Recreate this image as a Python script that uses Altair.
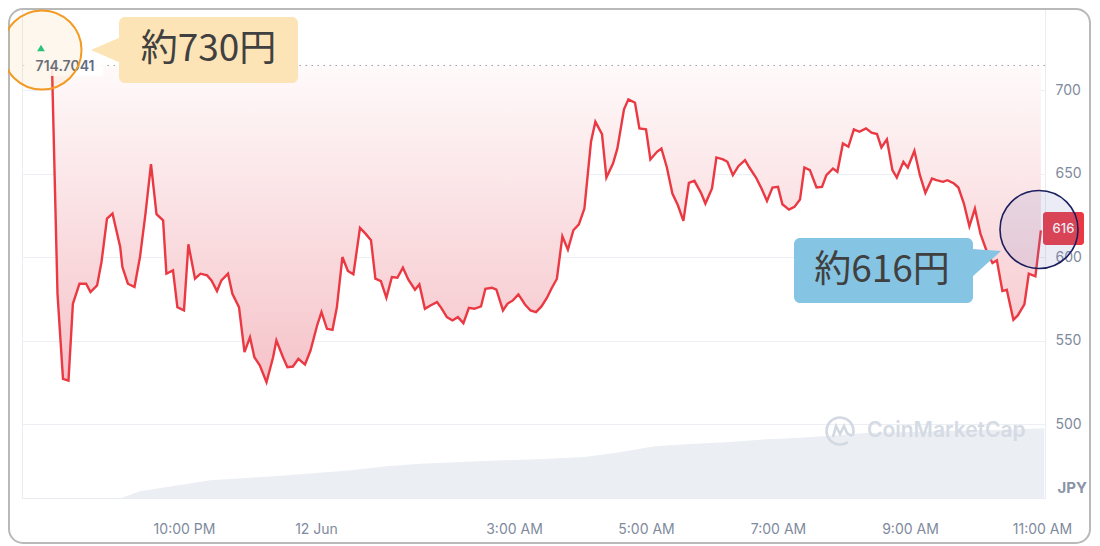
import altair as alt
import pandas as pd

# ---------------- data ----------------
price_time = [
    "20:00", "20:05", "20:10", "20:15", "20:19", "20:25", "20:31", "20:35", "20:41", "20:45",
    "20:50", "20:55", "21:02", "21:04", "21:09", "21:15", "21:20", "21:25", "21:30", "21:35",
    "21:41", "21:44", "21:50", "21:54", "22:00", "22:04", "22:10", "22:15", "22:21", "22:25",
    "22:30", "22:34", "22:40", "22:44", "22:50", "22:55", "23:00", "23:04", "23:09", "23:15",
    "23:21", "23:24", "23:30", "23:34", "23:39", "23:44", "23:50", "23:55",
    "00:01", "00:05", "00:10", "00:15", "00:19", "00:24", "00:29", "00:34", "00:40", "00:45",
    "00:50", "00:54", "00:59", "01:04", "01:09", "01:14", "01:19", "01:24", "01:30", "01:34",
    "01:39", "01:44", "01:50", "01:54", "01:59", "02:04", "02:09", "02:14", "02:19", "02:24",
    "02:30", "02:34", "02:40", "02:44", "02:50", "02:54", "02:59", "03:04", "03:10", "03:15",
    "03:20", "03:25", "03:30", "03:34", "03:39", "03:44", "03:49", "03:54", "03:59", "04:04",
    "04:10", "04:14", "04:20", "04:24", "04:30", "04:34", "04:40", "04:44", "04:50", "04:54",
    "05:00", "05:04", "05:10", "05:14", "05:19", "05:24", "05:29", "05:34", "05:39", "05:44",
    "05:50", "05:54", "06:00", "06:04", "06:10", "06:14", "06:19", "06:24", "06:30", "06:34",
    "06:40", "06:45", "06:50", "06:55", "07:00", "07:04", "07:10", "07:15", "07:20", "07:24",
    "07:29", "07:35", "07:40", "07:44", "07:50", "07:54", "07:59", "08:04", "08:09", "08:14",
    "08:20", "08:25", "08:30", "08:34", "08:39", "08:44", "08:48", "08:54", "08:58", "09:04",
    "09:09", "09:14", "09:20", "09:24", "09:30", "09:34", "09:40", "09:44", "09:49", "09:54",
    "09:59", "10:04", "10:10", "10:15", "10:19", "10:24", "10:28", "10:34", "10:38", "10:44",
    "10:48", "10:54", "10:59",
]
price_jpy = [
    714.7041, 578, 527, 526, 572, 584, 584, 579, 583, 597,
    623, 626, 606, 594, 584, 582, 600, 626, 655.6, 625.6,
    622, 590, 592, 570, 568, 607.6, 587, 590, 589, 586,
    579.6, 586, 590, 578, 570, 543, 552, 540, 535, 525,
    540, 550, 540, 534, 534.4, 539, 535.6, 544,
    559, 567, 557, 556.4, 570, 600, 591.6, 589.6, 617.4, 614,
    610, 587, 585.6, 575.6, 588, 587.6, 593.6, 586.4, 580.4, 583.6,
    569, 571, 573, 569.4, 564, 562, 564, 560.4, 569.6, 569,
    570.4, 581, 581.6, 580.4, 568, 572, 574, 577.6, 571.6, 568,
    567, 570.4, 575.6, 581, 587, 612.4, 604.4, 616, 619.6, 629,
    669, 681, 673.6, 647.6, 656, 665, 688.4, 694.4, 692.4, 677,
    676.4, 658.4, 663, 665, 653.6, 638, 631, 621.6, 644.4, 645.6,
    638.4, 632, 641, 659.6, 658.4, 657, 649, 654.4, 658, 653.6,
    647.6, 641, 633.6, 641.6, 642, 631.6, 628.4, 630, 634.4, 653.6,
    652, 641.6, 642, 649, 653, 651, 668, 666, 676.4, 675,
    677, 674.4, 673.6, 665.6, 670.4, 652, 647.6, 657, 653.6, 663.6,
    649, 638.4, 647, 646, 645, 646, 644, 641.6, 632, 618.4,
    629, 614, 603, 596.4, 598, 579.6, 580.4, 562.4, 565, 571.6,
    590, 588.4, 616,
]
volume_time = [
    "21:03", "21:20", "21:52", "22:24", "22:56", "23:28", "00:00", "00:32", "01:04", "01:35",
    "02:07", "02:39", "03:27", "04:04", "04:36", "05:08", "05:40", "06:12", "06:44", "07:16",
    "07:48", "08:20", "08:52", "09:24", "09:55", "10:27", "11:02",
]
volume_level = [
    0, 6.7, 12.3, 17.7, 20, 22.3, 25, 27.7, 31.7, 34.3,
    35.7, 37.3, 39, 41, 45.7, 51.7, 54, 55.7, 58.3, 60,
    62.3, 65, 65.7, 66.7, 67.7, 68.3, 69.7,
]
open_price = 714.7041
last_price = 616
y_ticks = [500, 550, 600, 650, 700]
x_tick_time = ["22:00", "00:00", "03:00", "05:00", "07:00", "09:00", "11:00"]
x_tick_label = ["10:00 PM", "12 Jun", "3:00 AM", "5:00 AM", "7:00 AM", "9:00 AM", "11:00 AM"]
unit_label = "JPY"
callout_open = "約730円"
callout_last = "約616円"
watermark = "CoinMarketCap"


def stamp(hm):
    h = int(hm[:2])
    day = 11 if h >= 12 else 12
    return f"2024-06-{day}T{hm}:00"


def when(hm, sec=0):
    h, m = (int(v) for v in hm.split(":"))
    day = 11 if h >= 12 else 12
    return alt.DateTime(year=2024, month=6, date=day, hours=h, minutes=m, seconds=sec)


price_df = pd.DataFrame({"t": [stamp(s) for s in price_time], "p": price_jpy})
vol_df = pd.DataFrame({"t": [stamp(s) for s in volume_time], "v": volume_level})
one = pd.DataFrame({"k": [0]})

W, H = 1023, 490
GRAY = "#808a9d"

lab = "''"
for t, l in reversed(list(zip(x_tick_time, x_tick_label))):
    lab = f"timeFormat(datum.value, '%H:%M') == '{t}' ? '{l}' : ({lab})"

x_enc = alt.X(
    "t:T",
    scale=alt.Scale(domain=[when("19:32", 44), when("11:02", 44)]),
    axis=alt.Axis(
        values=[when(t) for t in x_tick_time], labelExpr=lab, title=None, grid=False,
        ticks=False, tickSize=0, domain=False, labelPadding=24, labelFlush=False,
        labelOverlap=False, labelFont="Inter", labelFontSize=14, labelColor=GRAY,
    ),
)
pscale = alt.Scale(domain=[455.7, 749.1], nice=False, zero=False)

volume = alt.Chart(vol_df).mark_area(color="#ebeef3", interpolate="linear").encode(
    x=x_enc,
    y=alt.Y("v:Q", scale=alt.Scale(domain=[0, H], nice=False, zero=True), axis=None),
)

area = alt.Chart(price_df).mark_area(
    interpolate="linear",
    color=alt.Gradient(
        gradient="linear",
        stops=[alt.GradientStop(color="#fffafa", offset=0),
               alt.GradientStop(color="#f5c3c9", offset=1)],
        x1=1, x2=1, y1=0, y2=1,
    ),
).encode(x=x_enc, y=alt.Y("p:Q", scale=pscale, axis=None), y2=alt.datum(open_price))

line = alt.Chart(price_df).mark_line(color="#ea3943", strokeWidth=2.4, interpolate="linear").encode(
    x=x_enc,
    y=alt.Y("p:Q", scale=pscale, axis=alt.Axis(
        orient="right", values=y_ticks, title=None, grid=True, gridColor="#eceff3",
        ticks=False, tickSize=0, domain=False, labelPadding=10, labelFont="Inter",
        labelFontSize=14, labelColor=GRAY, labelAlign="left")),
)

open_rule = alt.Chart(one).mark_rule(color="#9aa1ad", strokeDash=[1.5, 4.5], strokeWidth=1).encode(
    y=alt.YDatum(open_price, scale=pscale, axis=None)
)


def box(x1, x2, y1, y2, **kw):
    return alt.Chart(one).mark_rect(**kw).encode(
        x=alt.value(x1), x2=alt.value(x2), y=alt.value(y1), y2=alt.value(y2))


def label(txt, x, y, **kw):
    return alt.Chart(one).mark_text(text=txt, **kw).encode(x=alt.value(x), y=alt.value(y))


def symbol(x, y, **kw):
    return alt.Chart(one).mark_point(**kw).encode(x=alt.value(x), y=alt.value(y))


border = box(-13, 1068, 1, 535, fillOpacity=0, stroke="#b9b9b9", strokeWidth=2, cornerRadius=14)

open_box = box(2, 81, 49, 68, color="white", opacity=0.9)
open_text = label(f"{open_price:.4f}", 43, 59, font="Inter", fontSize=14, fontWeight=600,
                  color="#5f6b80", align="center", baseline="middle")
green_tri = symbol(19, 40, shape="triangle-up", filled=True, color="#16c784", size=60, opacity=1)

wm_logo = symbol(818, 423, shape="M7.7,11.1A13.5,13.5,0,1,1,12.7,4.6M-7,6L-4,-5L0,3L4,-5L7,2L12,5",
                 size=4, filled=False, color="#d3d9e2", strokeWidth=2.6, opacity=1)
wm_text = label(watermark, 845, 423, font="Inter", fontSize=21, fontWeight=600,
                color="#d5dbe4", align="left", baseline="middle")

jpy = label(unit_label, 1065, 480, font="Inter", fontSize=15, fontWeight="bold",
            color="#8a94a6", align="right", baseline="middle")

last_box = box(1021, 1062, 204, 237, color="#ea3943", cornerRadius=3)
last_text = label(f"{last_price}", 1041.5, 221, font="Inter", fontSize=13, fontWeight=500,
                  color="white", align="center", baseline="middle")

orange_ring = symbol(20, 42, shape="circle", size=6241, fill="#f7931a", fillOpacity=0.08,
                     stroke="#f39a23", strokeWidth=2, strokeOpacity=1, opacity=1)
navy_ring = symbol(1017, 221.5, shape="circle", size=6084, fill="#7b7fc4", fillOpacity=0.15,
                   stroke="#1b1f5e", strokeWidth=1.6, strokeOpacity=1, opacity=1)

c1_box = box(97, 276, 9, 75, color="#fce4b6", cornerRadius=6)
c1_tip = symbol(98, 42, shape="M1,-13L-29,0L1,13Z", size=4, filled=True, color="#fce4b6",
                strokeWidth=0, opacity=1)
c1_text = label(callout_open, 186.5, 42, font="Noto Sans CJK JP", fontSize=37,
                color="#404040", align="center", baseline="middle")

c2_box = box(772, 951, 230, 295, color="#85c4e2", cornerRadius=6)
c2_tip = symbol(951, 255, shape="M-1,-14L28,-12L-1,14Z", size=4, filled=True, color="#85c4e2",
                strokeWidth=0, opacity=1)
c2_text = label(callout_last, 860, 263, font="Noto Sans CJK JP", fontSize=37,
                color="#404040", align="center", baseline="middle")

chart = alt.layer(
    border, volume, area, line, open_rule, open_box, open_text, green_tri,
    wm_logo, wm_text, jpy, last_box, last_text,
    c1_box, c1_tip, c1_text, c2_box, c2_tip, c2_text,
    orange_ring, navy_ring,
).resolve_scale(y="independent").properties(
    width=W, height=H,
    padding={"left": 14, "top": 0, "right": 47, "bottom": 47},
    autosize=alt.AutoSizeParams(type="none"),
    background="white",
).configure_view(stroke="#e9ecf0", strokeWidth=1)

chart.save("out.html", embed_options={"renderer": "svg", "actions": False})
